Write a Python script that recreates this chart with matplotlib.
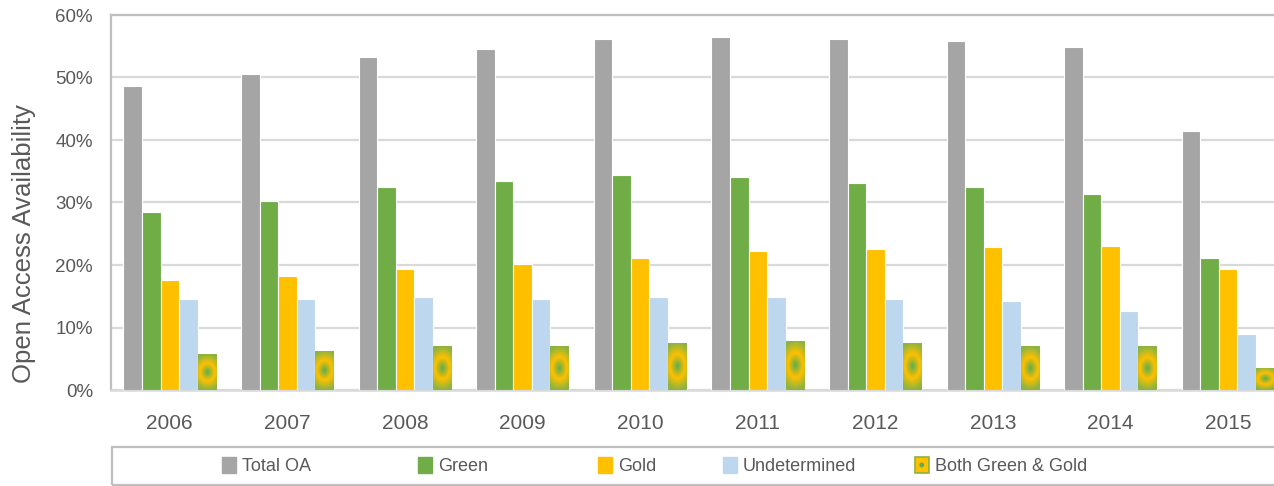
import numpy as np
import matplotlib
matplotlib.use("Agg")
import matplotlib.pyplot as plt
from matplotlib.colors import LinearSegmentedColormap
from matplotlib.patches import Rectangle, Circle
from matplotlib.legend_handler import HandlerBase
from matplotlib.ticker import PercentFormatter

years = ["2006", "2007", "2008", "2009", "2010", "2011", "2012", "2013", "2014", "2015"]
total_oa = [48.6, 50.6, 53.3, 54.6, 56.2, 56.5, 56.2, 55.8, 54.9, 41.4]
green = [28.5, 30.2, 32.4, 33.4, 34.4, 34.1, 33.1, 32.4, 31.4, 21.2]
gold = [17.6, 18.3, 19.3, 20.2, 21.2, 22.2, 22.5, 22.8, 23.1, 19.3]
undetermined = [14.6, 14.6, 14.9, 14.6, 14.9, 14.9, 14.6, 14.2, 12.6, 8.9]
both = [5.7, 6.3, 7.0, 7.0, 7.6, 7.9, 7.6, 7.0, 7.0, 3.6]

labels = ["Total OA", "Green", "Gold", "Undetermined", "Both Green & Gold"]
colors = ["#A5A5A5", "#70AD47", "#FFC000", "#BDD7EE", "#FFC000"]

font = ["Liberation Sans", "DejaVu Sans"]
text_col = "#595959"

W, H = 1274, 486
fig = plt.figure(figsize=(W / 100, H / 100), dpi=100)
ax = fig.add_axes([111 / W, 96 / H, 1176 / W, 375 / H])

x = np.arange(len(years))
step = 0.158
series = [total_oa, green, gold, undetermined, both]
bars = []
for k, vals in enumerate(series):
    b = ax.bar(x + (k - 2) * step, vals, width=step, color=colors[k],
               edgecolor="white", linewidth=0.8, zorder=3)
    bars.append(b)

ax.set_xlim(-0.5, len(years) - 0.5)
ax.set_ylim(0, 60)
ax.set_yticks(np.arange(0, 61, 10))
ax.yaxis.set_major_formatter(PercentFormatter(xmax=100, decimals=0))
ax.set_xticks(x)
ax.set_xticklabels(years)
ax.grid(axis="y", color="#D9D9D9", linewidth=1.6, zorder=0)
ax.set_axisbelow(True)
ax.tick_params(length=0, colors=text_col)
ax.tick_params(axis="y", pad=13, labelsize=13.5)
ax.tick_params(axis="x", pad=17, labelsize=15)
for t in ax.get_xticklabels() + ax.get_yticklabels():
    t.set_family(font)
for side in ["top", "left"]:
    ax.spines[side].set_color("#BFBFBF")
    ax.spines[side].set_linewidth(1.6)
ax.spines["bottom"].set_color("#D9D9D9")
ax.spines["bottom"].set_linewidth(1.8)
ax.spines["right"].set_visible(False)

ax.set_ylabel("Open Access Availability", fontsize=18.5, color=text_col,
              family=font)
ax.yaxis.set_label_coords(-0.064, 0.39)

# green centre -> gold ring -> green edge fill for the "both" bars
grad = LinearSegmentedColormap.from_list(
    "greengold", [(0, "#5EAE4C"), (0.5, "#FFC000"), (1, "#8CB440")])
for rect in bars[4]:
    x0, w = rect.get_x(), rect.get_width()
    h = rect.get_height()
    u, v = np.meshgrid(np.linspace(-1, 1, 40), np.linspace(-1, 1, 120))
    r = np.hypot(u, v * 1.6) / 1.6
    im = ax.imshow(np.clip(r, 0, 1), cmap=grad, vmin=0, vmax=1,
                   extent=[x0, x0 + w, 0, h], origin="lower",
                   aspect="auto", zorder=4, interpolation="bilinear")
    im.set_clip_path(rect)
ax.set_xlim(-0.5, len(years) - 0.5)
ax.set_ylim(0, 60)


class GradientSquare(HandlerBase):
    def create_artists(self, legend, orig_handle, xdescent, ydescent,
                       width, height, fontsize, trans):
        sq = Rectangle((-xdescent, -ydescent), width, height,
                       facecolor="#FFC000", edgecolor="#8CB440",
                       linewidth=1.2, transform=trans)
        dot = Circle((-xdescent + width / 2, -ydescent + height / 2),
                     width * 0.18, facecolor="#5EAE4C", edgecolor="none",
                     transform=trans)
        return [sq, dot]


# legend strip beneath the year labels
fig.add_artist(Rectangle((112 / W, 1 / H), 1180 / W, 38 / H,
                         transform=fig.transFigure, facecolor="none",
                         edgecolor="#BFBFBF", linewidth=1.6))
legend_x = [222, 418, 598, 723, 915]
for k in range(5):
    handle = Rectangle((0, 0), 1, 1, color=colors[k])
    kw = {}
    if k == 4:
        kw["handler_map"] = {Rectangle: GradientSquare()}
    fig.legend([handle], [labels[k]], loc="center left",
               bbox_to_anchor=(legend_x[k] / W, 20 / H), frameon=False,
               handlelength=0.75, handleheight=1.0, handletextpad=0.35,
               borderpad=0, borderaxespad=0,
               prop={"family": font, "size": 13}, labelcolor=text_col, **kw)

fig.savefig("out.png", dpi=100)
